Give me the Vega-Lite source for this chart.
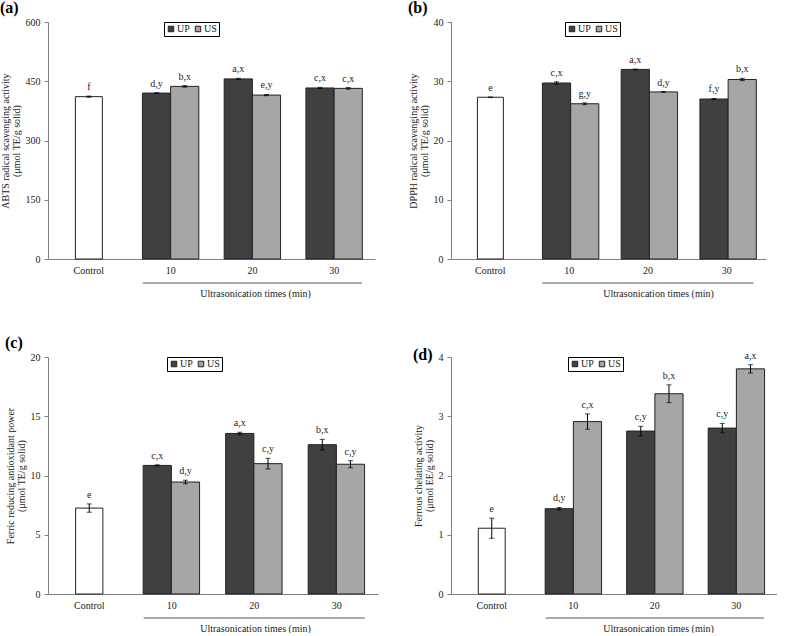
{
  "$schema": "https://vega.github.io/schema/vega-lite/v6.json",
  "padding": {"left": 0, "top": 0, "right": 0, "bottom": 0},
  "bounds": "flush",
  "columns": 2,
  "spacing": {"row": 98, "column": 73},
  "resolve": {"legend": {"color": "independent"}},
  "datasets": {
    "a": [
      {"time": "Control", "group": "Control", "value": 411, "lo": 409.5, "hi": 412.5, "label": "f"},
      {"time": "10", "group": "UP", "value": 420, "lo": 419, "hi": 421, "label": "d,y"},
      {"time": "10", "group": "US", "value": 437, "lo": 435, "hi": 439, "label": "b,x"},
      {"time": "20", "group": "UP", "value": 456, "lo": 454.5, "hi": 457.5, "label": "a,x"},
      {"time": "20", "group": "US", "value": 415, "lo": 413.5, "hi": 416.5, "label": "e,y"},
      {"time": "30", "group": "UP", "value": 433, "lo": 431.5, "hi": 434.5, "label": "c,x"},
      {"time": "30", "group": "US", "value": 432, "lo": 430, "hi": 434, "label": "c,x"}
    ],
    "b": [
      {"time": "Control", "group": "Control", "value": 27.3, "lo": 27.25, "hi": 27.35, "label": "e"},
      {"time": "10", "group": "UP", "value": 29.7, "lo": 29.5, "hi": 29.9, "label": "c,x"},
      {"time": "10", "group": "US", "value": 26.2, "lo": 26.05, "hi": 26.35, "label": "g,y"},
      {"time": "20", "group": "UP", "value": 32.0, "lo": 31.95, "hi": 32.05, "label": "a,x"},
      {"time": "20", "group": "US", "value": 28.2, "lo": 28.15, "hi": 28.25, "label": "d,y"},
      {"time": "30", "group": "UP", "value": 27.0, "lo": 26.9, "hi": 27.1, "label": "f,y"},
      {"time": "30", "group": "US", "value": 30.3, "lo": 30.1, "hi": 30.5, "label": "b,x"}
    ],
    "c": [
      {"time": "Control", "group": "Control", "value": 7.25, "lo": 6.9, "hi": 7.6, "label": "e"},
      {"time": "10", "group": "UP", "value": 10.85, "lo": 10.8, "hi": 10.9, "label": "c,x"},
      {"time": "10", "group": "US", "value": 9.45, "lo": 9.3, "hi": 9.6, "label": "d,y"},
      {"time": "20", "group": "UP", "value": 13.55, "lo": 13.45, "hi": 13.65, "label": "a,x"},
      {"time": "20", "group": "US", "value": 11.0, "lo": 10.55, "hi": 11.45, "label": "c,y"},
      {"time": "30", "group": "UP", "value": 12.6, "lo": 12.15, "hi": 13.05, "label": "b,x"},
      {"time": "30", "group": "US", "value": 10.95, "lo": 10.65, "hi": 11.25, "label": "c,y"}
    ],
    "d": [
      {"time": "Control", "group": "Control", "value": 1.11, "lo": 0.94, "hi": 1.28, "label": "e"},
      {"time": "10", "group": "UP", "value": 1.44, "lo": 1.42, "hi": 1.46, "label": "d,y"},
      {"time": "10", "group": "US", "value": 2.91, "lo": 2.78, "hi": 3.04, "label": "c,x"},
      {"time": "20", "group": "UP", "value": 2.75, "lo": 2.67, "hi": 2.83, "label": "c,y"},
      {"time": "20", "group": "US", "value": 3.38, "lo": 3.23, "hi": 3.53, "label": "b,x"},
      {"time": "30", "group": "UP", "value": 2.80, "lo": 2.72, "hi": 2.88, "label": "c,y"},
      {"time": "30", "group": "US", "value": 3.80, "lo": 3.73, "hi": 3.87, "label": "a,x"}
    ]
  },
  "concat": [
    {
      "width": 327, "height": 237,
      "title": {"text": "(a)", "anchor": "start", "frame": "bounds", "fontSize": 16, "font": "Liberation Serif", "fontWeight": "bold", "offset": 1},
      "data": {"name": "a"},
      "encoding": {
        "x": {"field": "time", "type": "ordinal", "sort": ["Control", "10", "20", "30"], "scale": {"paddingInner": 0, "paddingOuter": 0},
          "axis": {"title": "Ultrasonication times (min)", "titleX": 207, "titleY": 29, "titleBaseline": "top", "labelAngle": 0, "ticks": false, "labelPadding": 6}}
      },
      "layer": [
        {"transform": [{"filter": "datum.group === 'Control'"}],
          "layer": [
            {"mark": {"type": "bar", "width": {"band": 0.33}, "fill": "white", "stroke": "#222", "strokeWidth": 1},
              "encoding": {"y": {"field": "value", "type": "quantitative", "scale": {"domain": [0, 600]},
                "axis": {"title": ["ABTS radical scavenging activity", "(μmol TE/g solid)"], "values": [0, 150, 300, 450, 600], "format": "d"}}}},
            {"mark": {"type": "rule", "color": "black"}, "encoding": {"y": {"field": "lo", "type": "quantitative"}, "y2": {"field": "hi"}}},
            {"mark": {"type": "tick", "orient": "horizontal", "size": 5, "thickness": 1, "color": "black"}, "encoding": {"y": {"field": "lo", "type": "quantitative"}}},
            {"mark": {"type": "tick", "orient": "horizontal", "size": 5, "thickness": 1, "color": "black"}, "encoding": {"y": {"field": "hi", "type": "quantitative"}}},
            {"mark": {"type": "text", "baseline": "bottom", "dy": -4, "font": "Liberation Serif", "fontSize": 10, "color": "#222"}, "encoding": {"y": {"field": "hi", "type": "quantitative"}, "text": {"field": "label"}}}
          ]},
        {"transform": [{"filter": "datum.group !== 'Control'"}],
          "encoding": {"xOffset": {"field": "group", "type": "nominal", "scale": {"domain": ["UP", "US"], "paddingInner": 0, "paddingOuter": 0.45}}},
          "layer": [
            {"mark": {"type": "bar", "stroke": "#222", "strokeWidth": 1},
              "encoding": {"y": {"field": "value", "type": "quantitative"},
                "color": {"field": "group", "type": "nominal", "scale": {"domain": ["UP", "US"], "range": ["#404040", "#a6a6a6"]},
                  "legend": {"legendX": 116, "legendY": 0}}}},
            {"mark": {"type": "rule", "color": "black"}, "encoding": {"y": {"field": "lo", "type": "quantitative"}, "y2": {"field": "hi"}}},
            {"mark": {"type": "tick", "orient": "horizontal", "size": 5, "thickness": 1, "color": "black"}, "encoding": {"y": {"field": "lo", "type": "quantitative"}}},
            {"mark": {"type": "tick", "orient": "horizontal", "size": 5, "thickness": 1, "color": "black"}, "encoding": {"y": {"field": "hi", "type": "quantitative"}}},
            {"mark": {"type": "text", "baseline": "bottom", "dy": -4, "font": "Liberation Serif", "fontSize": 10, "color": "#222"}, "encoding": {"y": {"field": "hi", "type": "quantitative"}, "text": {"field": "label"}}}
          ]},
        {"transform": [{"filter": "datum.group === 'Control'"}],
          "mark": {"type": "rule", "color": "#555", "strokeWidth": 1},
          "encoding": {"x": {"datum": "10", "bandPosition": 0.16}, "x2": {"datum": "30", "bandPosition": 0.84}, "y": {"value": 261}}}
      ]
    },
    {
      "width": 315, "height": 237,
      "title": {"text": "(b)", "anchor": "start", "frame": "bounds", "fontSize": 16, "font": "Liberation Serif", "fontWeight": "bold", "offset": 1},
      "data": {"name": "b"},
      "encoding": {
        "x": {"field": "time", "type": "ordinal", "sort": ["Control", "10", "20", "30"], "scale": {"paddingInner": 0, "paddingOuter": 0},
          "axis": {"title": "Ultrasonication times (min)", "titleX": 207, "titleY": 29, "titleBaseline": "top", "labelAngle": 0, "ticks": false, "labelPadding": 6}}
      },
      "layer": [
        {"transform": [{"filter": "datum.group === 'Control'"}],
          "layer": [
            {"mark": {"type": "bar", "width": {"band": 0.33}, "fill": "white", "stroke": "#222", "strokeWidth": 1},
              "encoding": {"y": {"field": "value", "type": "quantitative", "scale": {"domain": [0, 40]},
                "axis": {"title": ["DPPH radical scavenging activity", "(μmol TE/g solid)"], "values": [0, 10, 20, 30, 40], "format": "d"}}}},
            {"mark": {"type": "rule", "color": "black"}, "encoding": {"y": {"field": "lo", "type": "quantitative"}, "y2": {"field": "hi"}}},
            {"mark": {"type": "tick", "orient": "horizontal", "size": 5, "thickness": 1, "color": "black"}, "encoding": {"y": {"field": "lo", "type": "quantitative"}}},
            {"mark": {"type": "tick", "orient": "horizontal", "size": 5, "thickness": 1, "color": "black"}, "encoding": {"y": {"field": "hi", "type": "quantitative"}}},
            {"mark": {"type": "text", "baseline": "bottom", "dy": -4, "font": "Liberation Serif", "fontSize": 10, "color": "#222"}, "encoding": {"y": {"field": "hi", "type": "quantitative"}, "text": {"field": "label"}}}
          ]},
        {"transform": [{"filter": "datum.group !== 'Control'"}],
          "encoding": {"xOffset": {"field": "group", "type": "nominal", "scale": {"domain": ["UP", "US"], "paddingInner": 0, "paddingOuter": 0.45}}},
          "layer": [
            {"mark": {"type": "bar", "stroke": "#222", "strokeWidth": 1},
              "encoding": {"y": {"field": "value", "type": "quantitative"},
                "color": {"field": "group", "type": "nominal", "scale": {"domain": ["UP", "US"], "range": ["#404040", "#a6a6a6"]},
                  "legend": {"legendX": 114, "legendY": 0}}}},
            {"mark": {"type": "rule", "color": "black"}, "encoding": {"y": {"field": "lo", "type": "quantitative"}, "y2": {"field": "hi"}}},
            {"mark": {"type": "tick", "orient": "horizontal", "size": 5, "thickness": 1, "color": "black"}, "encoding": {"y": {"field": "lo", "type": "quantitative"}}},
            {"mark": {"type": "tick", "orient": "horizontal", "size": 5, "thickness": 1, "color": "black"}, "encoding": {"y": {"field": "hi", "type": "quantitative"}}},
            {"mark": {"type": "text", "baseline": "bottom", "dy": -4, "font": "Liberation Serif", "fontSize": 10, "color": "#222"}, "encoding": {"y": {"field": "hi", "type": "quantitative"}, "text": {"field": "label"}}}
          ]},
        {"transform": [{"filter": "datum.group === 'Control'"}],
          "mark": {"type": "rule", "color": "#555", "strokeWidth": 1},
          "encoding": {"x": {"datum": "10", "bandPosition": 0.16}, "x2": {"datum": "30", "bandPosition": 0.84}, "y": {"value": 261}}}
      ]
    },
    {
      "width": 330, "height": 237,
      "title": {"text": "(c)", "anchor": "start", "frame": "bounds", "fontSize": 16, "font": "Liberation Serif", "fontWeight": "bold", "offset": 1},
      "data": {"name": "c"},
      "encoding": {
        "x": {"field": "time", "type": "ordinal", "sort": ["Control", "10", "20", "30"], "scale": {"paddingInner": 0, "paddingOuter": 0},
          "axis": {"title": "Ultrasonication times (min)", "titleX": 207, "titleY": 29, "titleBaseline": "top", "labelAngle": 0, "ticks": false, "labelPadding": 6}}
      },
      "layer": [
        {"transform": [{"filter": "datum.group === 'Control'"}],
          "layer": [
            {"mark": {"type": "bar", "width": {"band": 0.33}, "fill": "white", "stroke": "#222", "strokeWidth": 1},
              "encoding": {"y": {"field": "value", "type": "quantitative", "scale": {"domain": [0, 20]},
                "axis": {"title": ["Ferric reducing antioxidant power", "(μmol TE/g solid)"], "values": [0, 5, 10, 15, 20], "format": "d"}}}},
            {"mark": {"type": "rule", "color": "black"}, "encoding": {"y": {"field": "lo", "type": "quantitative"}, "y2": {"field": "hi"}}},
            {"mark": {"type": "tick", "orient": "horizontal", "size": 5, "thickness": 1, "color": "black"}, "encoding": {"y": {"field": "lo", "type": "quantitative"}}},
            {"mark": {"type": "tick", "orient": "horizontal", "size": 5, "thickness": 1, "color": "black"}, "encoding": {"y": {"field": "hi", "type": "quantitative"}}},
            {"mark": {"type": "text", "baseline": "bottom", "dy": -4, "font": "Liberation Serif", "fontSize": 10, "color": "#222"}, "encoding": {"y": {"field": "hi", "type": "quantitative"}, "text": {"field": "label"}}}
          ]},
        {"transform": [{"filter": "datum.group !== 'Control'"}],
          "encoding": {"xOffset": {"field": "group", "type": "nominal", "scale": {"domain": ["UP", "US"], "paddingInner": 0, "paddingOuter": 0.45}}},
          "layer": [
            {"mark": {"type": "bar", "stroke": "#222", "strokeWidth": 1},
              "encoding": {"y": {"field": "value", "type": "quantitative"},
                "color": {"field": "group", "type": "nominal", "scale": {"domain": ["UP", "US"], "range": ["#404040", "#a6a6a6"]},
                  "legend": {"legendX": 119, "legendY": 0}}}},
            {"mark": {"type": "rule", "color": "black"}, "encoding": {"y": {"field": "lo", "type": "quantitative"}, "y2": {"field": "hi"}}},
            {"mark": {"type": "tick", "orient": "horizontal", "size": 5, "thickness": 1, "color": "black"}, "encoding": {"y": {"field": "lo", "type": "quantitative"}}},
            {"mark": {"type": "tick", "orient": "horizontal", "size": 5, "thickness": 1, "color": "black"}, "encoding": {"y": {"field": "hi", "type": "quantitative"}}},
            {"mark": {"type": "text", "baseline": "bottom", "dy": -4, "font": "Liberation Serif", "fontSize": 10, "color": "#222"}, "encoding": {"y": {"field": "hi", "type": "quantitative"}, "text": {"field": "label"}}}
          ]},
        {"transform": [{"filter": "datum.group === 'Control'"}],
          "mark": {"type": "rule", "color": "#555", "strokeWidth": 1},
          "encoding": {"x": {"datum": "10", "bandPosition": 0.16}, "x2": {"datum": "30", "bandPosition": 0.84}, "y": {"value": 261}}}
      ]
    },
    {
      "width": 326, "height": 237,
      "title": {"text": "(d)", "anchor": "start", "frame": "bounds", "fontSize": 16, "font": "Liberation Serif", "fontWeight": "bold", "offset": 1, "dy": 13, "dx": 0},
      "data": {"name": "d"},
      "encoding": {
        "x": {"field": "time", "type": "ordinal", "sort": ["Control", "10", "20", "30"], "scale": {"paddingInner": 0, "paddingOuter": 0},
          "axis": {"title": "Ultrasonication times (min)", "titleX": 207, "titleY": 29, "titleBaseline": "top", "labelAngle": 0, "ticks": false, "labelPadding": 6}}
      },
      "layer": [
        {"transform": [{"filter": "datum.group === 'Control'"}],
          "layer": [
            {"mark": {"type": "bar", "width": {"band": 0.33}, "fill": "white", "stroke": "#222", "strokeWidth": 1},
              "encoding": {"y": {"field": "value", "type": "quantitative", "scale": {"domain": [0, 4]},
                "axis": {"title": ["Ferrous chelating activity", "(μmol EE/g solid)"], "values": [0, 1, 2, 3, 4], "format": "d"}}}},
            {"mark": {"type": "rule", "color": "black"}, "encoding": {"y": {"field": "lo", "type": "quantitative"}, "y2": {"field": "hi"}}},
            {"mark": {"type": "tick", "orient": "horizontal", "size": 5, "thickness": 1, "color": "black"}, "encoding": {"y": {"field": "lo", "type": "quantitative"}}},
            {"mark": {"type": "tick", "orient": "horizontal", "size": 5, "thickness": 1, "color": "black"}, "encoding": {"y": {"field": "hi", "type": "quantitative"}}},
            {"mark": {"type": "text", "baseline": "bottom", "dy": -4, "font": "Liberation Serif", "fontSize": 10, "color": "#222"}, "encoding": {"y": {"field": "hi", "type": "quantitative"}, "text": {"field": "label"}}}
          ]},
        {"transform": [{"filter": "datum.group !== 'Control'"}],
          "encoding": {"xOffset": {"field": "group", "type": "nominal", "scale": {"domain": ["UP", "US"], "paddingInner": 0, "paddingOuter": 0.45}}},
          "layer": [
            {"mark": {"type": "bar", "stroke": "#222", "strokeWidth": 1},
              "encoding": {"y": {"field": "value", "type": "quantitative"},
                "color": {"field": "group", "type": "nominal", "scale": {"domain": ["UP", "US"], "range": ["#404040", "#a6a6a6"]},
                  "legend": {"legendX": 117, "legendY": 0}}}},
            {"mark": {"type": "rule", "color": "black"}, "encoding": {"y": {"field": "lo", "type": "quantitative"}, "y2": {"field": "hi"}}},
            {"mark": {"type": "tick", "orient": "horizontal", "size": 5, "thickness": 1, "color": "black"}, "encoding": {"y": {"field": "lo", "type": "quantitative"}}},
            {"mark": {"type": "tick", "orient": "horizontal", "size": 5, "thickness": 1, "color": "black"}, "encoding": {"y": {"field": "hi", "type": "quantitative"}}},
            {"mark": {"type": "text", "baseline": "bottom", "dy": -4, "font": "Liberation Serif", "fontSize": 10, "color": "#222"}, "encoding": {"y": {"field": "hi", "type": "quantitative"}, "text": {"field": "label"}}}
          ]},
        {"transform": [{"filter": "datum.group === 'Control'"}],
          "mark": {"type": "rule", "color": "#555", "strokeWidth": 1},
          "encoding": {"x": {"datum": "10", "bandPosition": 0.16}, "x2": {"datum": "30", "bandPosition": 0.84}, "y": {"value": 261}}}
      ]
    }
  ],
  "config": {
    "font": "Liberation Serif",
    "view": {"stroke": null},
    "style": {"guide-label": {"font": "Liberation Serif"}, "guide-title": {"font": "Liberation Serif"}},
    "axis": {"labelFont": "Liberation Serif", "titleFont": "Liberation Serif", "labelFontSize": 10, "titleFontSize": 10, "titleFontWeight": "normal", "domainColor": "#808080", "tickColor": "#808080", "labelColor": "#222", "titleColor": "#222", "grid": false, "titleLineHeight": 11},
    "axisY": {"tickSize": 4, "labelPadding": 4, "titlePadding": 4},
    "legend": {"title": null, "orient": "none", "direction": "horizontal", "strokeColor": "black", "padding": 2, "symbolType": "square", "symbolSize": 30, "symbolStrokeColor": "#222", "symbolStrokeWidth": 1, "labelFontSize": 10, "labelFont": "Liberation Serif", "labelColor": "#222", "columnPadding": 3, "labelOffset": 1}
  }
}
